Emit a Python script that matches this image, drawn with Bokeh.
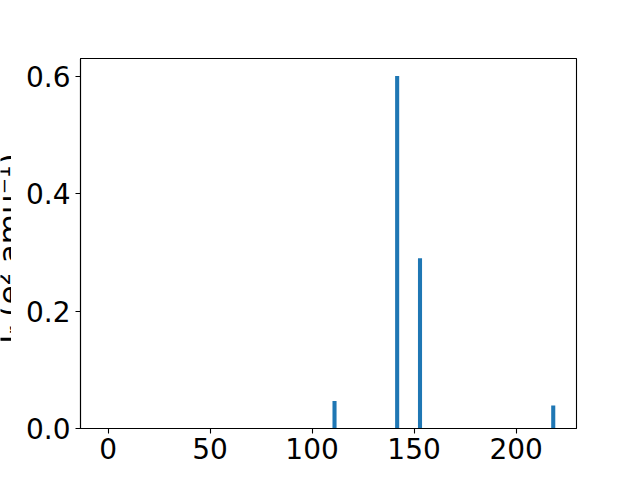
import math
from bokeh.plotting import figure
from bokeh.layouts import row, column
from bokeh.models import Range1d, FixedTicker, NumeralTickFormatter
from bokeh.core.properties import value
from bokeh.embed import file_html
from bokeh.resources import INLINE

# Data
frequencies = [111.0, 141.7, 152.9, 218.2]      # cm^-1
intensities = [0.047, 0.600, 0.290, 0.039]     # e^2 amu^-1
x_ticks = [0, 50, 100, 150, 200]
y_ticks = [0.0, 0.2, 0.4, 0.6]
x_label = "Frequency (cm⁻¹)"
y_label = "Iᵣ (e² amu⁻¹)"

FONT = "DejaVu Sans"
FS = "28px"

YLAB_W = 11      # strip holding the (clipped) y-axis title
MAIN_H = 473     # main figure height; 7px strip below for the clipped x-axis title
XLAB_H = 7

p = figure(width=640 - YLAB_W, height=MAIN_H, output_backend="svg", toolbar_location=None,
           x_range=Range1d(-13.5, 229.6), y_range=Range1d(0, 0.63))
p.min_border_left = 69
p.min_border_right = 64
p.min_border_top = 58
p.min_border_bottom = 45
p.background_fill_color = "white"
p.border_fill_color = "white"
p.outline_line_color = "black"
p.outline_line_width = 1.1
p.grid.visible = False

p.vbar(x=frequencies, top=intensities, width=2.0, bottom=0,
       fill_color="#1f77b4", line_color=None)

for ax in (p.xaxis[0], p.yaxis[0]):
    ax.axis_line_color = "black"
    ax.axis_line_width = 1.1
    ax.major_tick_line_color = "black"
    ax.major_tick_line_width = 1.1
    ax.major_tick_out = 5
    ax.major_tick_in = 0
    ax.minor_tick_line_color = None
    ax.major_label_text_font = FONT
    ax.major_label_text_font_size = FS
    ax.major_label_text_color = "black"

p.xaxis.major_label_standoff = 4
p.yaxis.major_label_standoff = 5
p.xaxis.ticker = FixedTicker(ticks=x_ticks)
p.yaxis.ticker = FixedTicker(ticks=y_ticks)
p.yaxis.formatter = NumeralTickFormatter(format="0.0")


def strip(w, h):
    f = figure(width=w, height=h, output_backend="svg", toolbar_location=None,
               x_range=Range1d(0, w), y_range=Range1d(0, h),
               x_axis_location=None, y_axis_location=None, min_border=0)
    f.min_border_left = f.min_border_right = 0
    f.min_border_top = f.min_border_bottom = 0
    f.grid.visible = False
    f.outline_line_color = None
    f.background_fill_color = "white"
    f.border_fill_color = "white"
    return f


# y-axis title: mostly outside the picture, as in the reference
yf = strip(YLAB_W, MAIN_H)
yf.text(x=[8], y=[MAIN_H - 243], text=[y_label], angle=math.pi / 2,
        text_align="center", text_baseline="alphabetic",
        text_font=value(FONT), text_font_size="31px", text_color="black")

# x-axis title: only its top edge shows at the bottom of the picture
xf = strip(640, XLAB_H)
xf.text(x=[328], y=[XLAB_H - 1], text=[x_label], y_offset=23,
        text_align="center", text_baseline="alphabetic",
        text_font=value(FONT), text_font_size=FS, text_color="black")

layout = column(row(yf, p, spacing=0), xf, spacing=0)

open("out.html", "w").write(file_html(layout, INLINE))
